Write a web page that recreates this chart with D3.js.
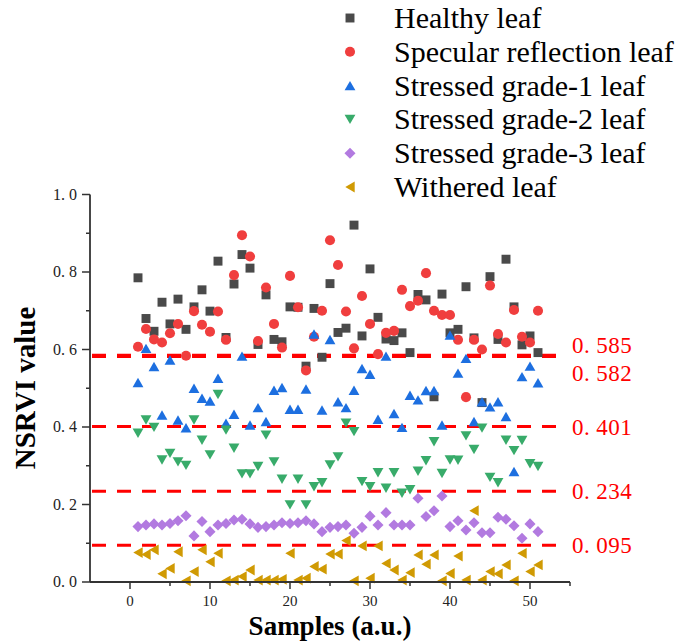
<!DOCTYPE html>
<html>
<head>
<meta charset="utf-8">
<script src="https://cdn.jsdelivr.net/npm/d3@7"></script>
<style>
  html, body { margin: 0; padding: 0; background: #ffffff; }
  svg { display: block; }
</style>
</head>
<body>
<svg id="chart" width="694" height="643"></svg>
<script>
// ---- data -------------------------------------------------------------
const samples = d3.range(1, 52);

const healthy = [0.785, 0.680, 0.647, 0.722, 0.666, 0.730, 0.652, 0.710, 0.754, 0.699,
  0.828, 0.631, 0.769, 0.845, 0.810, 0.613, 0.741, 0.626, 0.620, 0.710,
  0.709, 0.557, 0.706, 0.580, 0.770, 0.644, 0.655, 0.921, 0.635, 0.808,
  0.683, 0.627, 0.623, 0.643, 0.592, 0.742, 0.728, 0.478, 0.743, 0.643,
  0.652, 0.762, 0.630, 0.463, 0.788, 0.626, 0.833, 0.710, 0.612, 0.635, 0.592];

const specular = [0.607, 0.653, 0.626, 0.618, 0.642, 0.666, 0.584, 0.699, 0.664, 0.646,
  0.698, 0.625, 0.792, 0.895, 0.840, 0.622, 0.760, 0.666, 0.605, 0.790,
  0.709, 0.546, 0.633, 0.700, 0.882, 0.818, 0.698, 0.603, 0.738, 0.666,
  0.588, 0.643, 0.648, 0.754, 0.712, 0.726, 0.797, 0.700, 0.689, 0.689,
  0.625, 0.477, 0.625, 0.600, 0.765, 0.640, 0.618, 0.702, 0.633, 0.618, 0.700];

const grade1 = [0.515, 0.603, 0.556, 0.431, 0.573, 0.418, 0.398, 0.500, 0.474, 0.467,
  0.526, 0.410, 0.433, 0.583, 0.405, 0.450, 0.414, 0.495, 0.502, 0.446,
  0.446, 0.498, 0.640, 0.444, 0.626, 0.465, 0.450, 0.495, 0.551, 0.536,
  0.420, 0.583, 0.435, 0.399, 0.482, 0.470, 0.494, 0.494, 0.405, 0.637,
  0.539, 0.577, 0.414, 0.465, 0.452, 0.465, 0.427, 0.285, 0.530, 0.557, 0.514];

const grade2 = [0.384, 0.418, 0.399, 0.315, 0.332, 0.310, 0.301, 0.418, 0.366, 0.328,
  0.484, 0.392, 0.345, 0.279, 0.279, 0.298, 0.379, 0.310, 0.265, 0.199,
  0.265, 0.199, 0.246, 0.256, 0.302, 0.323, 0.410, 0.388, 0.259, 0.246,
  0.282, 0.242, 0.282, 0.229, 0.238, 0.286, 0.313, 0.362, 0.280, 0.315,
  0.314, 0.377, 0.342, 0.397, 0.270, 0.256, 0.366, 0.339, 0.365, 0.305, 0.298];

const grade3 = [0.143, 0.147, 0.150, 0.147, 0.151, 0.158, 0.171, 0.119, 0.156, 0.130,
  0.147, 0.151, 0.160, 0.162, 0.150, 0.141, 0.143, 0.147, 0.153, 0.151,
  0.153, 0.158, 0.150, 0.130, 0.141, 0.143, 0.147, 0.126, 0.141, 0.170,
  0.147, 0.179, 0.147, 0.147, 0.147, 0.216, 0.169, 0.184, 0.222, 0.143,
  0.158, 0.134, 0.153, 0.127, 0.127, 0.167, 0.162, 0.145, 0.113, 0.150, 0.130];

const withered = [0.076, 0.071, 0.083, 0.021, 0.035, 0.078, 0.003, 0.027, 0.083, 0.052,
  0.074, 0.003, 0.005, 0.014, 0.031, 0.005, 0.005, 0.005, 0.007, 0.074,
  0.005, 0.010, 0.040, 0.033, 0.072, 0.072, 0.107, 0.003, 0.093, 0.010,
  0.093, 0.048, 0.031, 0.005, 0.024, 0.070, 0.046, 0.070, 0.003, 0.022,
  0.067, 0.005, 0.184, 0.005, 0.027, 0.021, 0.044, 0.003, 0.074, 0.027, 0.044];

const seriesNames = ["Healthy leaf", "Specular reflection leaf", "Stressed grade-1 leaf",
  "Stressed grade-2 leaf", "Stressed grade-3 leaf", "Withered leaf"];

const thresholds = [0.585, 0.582, 0.401, 0.234, 0.095];
const xTickValues = [0, 10, 20, 30, 40, 50];
const yTickValues = [0.0, 0.2, 0.4, 0.6, 0.8, 1.0];

// ---- marker shapes (centred on their bounding boxes) -------------------
const squareSym = { draw(c, s) { const h = Math.sqrt(s) / 2; c.rect(-h, -h, 2 * h, 2 * h); } };
const circleSym = { draw(c, s) { const r = Math.sqrt(s / Math.PI); c.moveTo(r, 0); c.arc(0, 0, r, 0, 2 * Math.PI); } };
const upSym = { draw(c, s) { const w = Math.sqrt(s) * 0.75, h = w * 0.87; c.moveTo(0, -h); c.lineTo(w, h); c.lineTo(-w, h); c.closePath(); } };
const downSym = { draw(c, s) { const w = Math.sqrt(s) * 0.75, h = w * 0.87; c.moveTo(0, h); c.lineTo(w, -h); c.lineTo(-w, -h); c.closePath(); } };
const diamondSym = { draw(c, s) { const r = Math.sqrt(s) * 0.8; c.moveTo(0, -r); c.lineTo(r, 0); c.lineTo(0, r); c.lineTo(-r, 0); c.closePath(); } };
const leftSym = { draw(c, s) { const w = Math.sqrt(s) * 0.75, h = w * 0.87; c.moveTo(-h, 0); c.lineTo(h, -w); c.lineTo(h, w); c.closePath(); } };

const series = [
  { name: seriesNames[0], values: healthy,  sym: squareSym,  size: 80, color: "#4a4a4a" },
  { name: seriesNames[1], values: specular, sym: circleSym,  size: 80, color: "#f03e3e" },
  { name: seriesNames[2], values: grade1,   sym: upSym,      size: 52, color: "#1d6fe0" },
  { name: seriesNames[3], values: grade2,   sym: downSym,    size: 52, color: "#38ab6a" },
  { name: seriesNames[4], values: grade3,   sym: diamondSym, size: 48, color: "#b27ae0" },
  { name: seriesNames[5], values: withered, sym: leftSym,    size: 52, color: "#d09a03" }
];

// ---- layout ------------------------------------------------------------
const svg = d3.select("#chart");
const x = d3.scaleLinear().domain([-5, 55]).range([90, 570]);
const y = d3.scaleLinear().domain([0, 1]).range([582, 194.5]);
const axisColor = "#333333";
const serif = "'Liberation Serif', 'Times New Roman', serif";

// threshold lines
svg.append("g").selectAll("line").data(thresholds).join("line")
  .attr("x1", 92).attr("x2", 558)
  .attr("y1", d => y(d)).attr("y2", d => y(d))
  .attr("stroke", "#ff0000").attr("stroke-width", 3)
  .attr("stroke-dasharray", "14,11");

// threshold labels (the two nearly equal ones are pushed apart)
const labelShift = { 0.585: -10, 0.582: 16 };
const tl = svg.append("g").selectAll("text").data(thresholds).join("text")
  .attr("x", 572)
  .attr("y", d => y(d) + (labelShift[d] || 0))
  .attr("dy", "0.35em")
  .attr("font-family", serif).attr("font-size", 23)
  .attr("letter-spacing", 0.5)
  .attr("fill", "#ff0000");
tl.append("tspan").text(d => d.toFixed(3).slice(0, 2));
tl.append("tspan").attr("dx", 6).text(d => d.toFixed(3).slice(2));

// scatter marks
series.forEach(s => {
  svg.append("g").selectAll("path").data(s.values).join("path")
    .attr("transform", (v, i) => `translate(${x(samples[i])},${y(v)})`)
    .attr("d", d3.symbol().type(s.sym).size(s.size)())
    .attr("fill", s.color);
});

// axes
const gx = svg.append("g").attr("transform", "translate(0,582)");
gx.append("line").attr("x1", 90).attr("x2", 570).attr("stroke", axisColor).attr("stroke-width", 1.8);
gx.selectAll(".maj").data(xTickValues).join("line")
  .attr("x1", d => x(d)).attr("x2", d => x(d)).attr("y1", 0).attr("y2", 7)
  .attr("stroke", axisColor).attr("stroke-width", 1.5);
gx.selectAll(".min").data([5, 15, 25, 35, 45, 55]).join("line")
  .attr("x1", d => x(d)).attr("x2", d => x(d)).attr("y1", 0).attr("y2", 4)
  .attr("stroke", axisColor).attr("stroke-width", 1.5);
gx.selectAll("text").data(xTickValues).join("text")
  .attr("x", d => x(d)).attr("y", 24)
  .attr("text-anchor", "middle")
  .attr("font-family", serif).attr("font-size", 15).attr("fill", "#222")
  .text(d => d);

const gy = svg.append("g");
gy.append("line").attr("x1", 90).attr("x2", 90).attr("y1", y(1)).attr("y2", 582)
  .attr("stroke", axisColor).attr("stroke-width", 1.8);
gy.selectAll(".maj").data(yTickValues).join("line")
  .attr("x1", 82).attr("x2", 90).attr("y1", d => y(d)).attr("y2", d => y(d))
  .attr("stroke", axisColor).attr("stroke-width", 1.5);
gy.selectAll(".min").data([0.1, 0.3, 0.5, 0.7, 0.9]).join("line")
  .attr("x1", 86).attr("x2", 90).attr("y1", d => y(d)).attr("y2", d => y(d))
  .attr("stroke", axisColor).attr("stroke-width", 1.5);
const yl = gy.selectAll("text").data(yTickValues).join("text")
  .attr("x", 77).attr("y", d => y(d)).attr("dy", "0.33em")
  .attr("text-anchor", "end")
  .attr("font-family", serif).attr("font-size", 16).attr("fill", "#222");
yl.append("tspan").text(d => d.toFixed(1).slice(0, 2));
yl.append("tspan").attr("dx", 4).text(d => d.toFixed(1).slice(2));

// axis titles
svg.append("text")
  .attr("x", 330).attr("y", 635)
  .attr("text-anchor", "middle")
  .attr("font-family", serif).attr("font-weight", "bold").attr("font-size", 27)
  .text("Samples (a.u.)");
svg.append("text")
  .attr("transform", "translate(35,388) rotate(-90)")
  .attr("text-anchor", "middle")
  .attr("font-family", serif).attr("font-weight", "bold").attr("font-size", 29)
  .text("NSRVI value");

// legend
const lg = svg.append("g").selectAll("g").data(series).join("g")
  .attr("transform", (d, i) => `translate(350,${18 + i * 33.8})`);
lg.append("path")
  .attr("d", d => d3.symbol().type(d.sym).size(d.size)())
  .attr("fill", d => d.color);
lg.append("text")
  .attr("x", 44).attr("y", 10)
  .attr("font-family", serif).attr("font-size", 30).attr("fill", "#000")
  .text(d => d.name);
</script>
</body>
</html>
